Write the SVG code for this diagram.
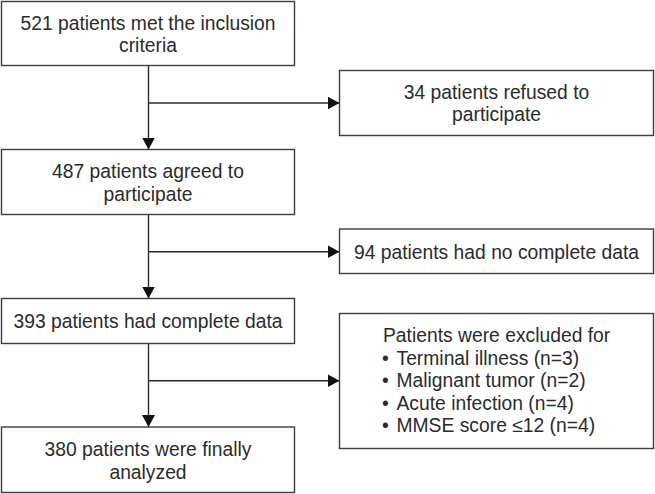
<svg xmlns="http://www.w3.org/2000/svg" width="655" height="494" viewBox="0 0 655 494">
<style>
.box{fill:#fff;stroke:#3d3d3d;stroke-width:1.4}
.t{font-family:"Liberation Sans",Arial,sans-serif;font-size:19.3px;fill:#2b2b2b}
.c{text-anchor:middle}
.ln{fill:none;stroke:#2b2b2b;stroke-width:1.4}
</style>
<defs>
<marker id="ah" markerUnits="userSpaceOnUse" markerWidth="12" markerHeight="13" refX="12" refY="6.5" orient="auto" viewBox="0 0 12 13">
<path d="M0,0 L12,6.5 L0,13 z" fill="#111"/>
</marker>
</defs>
<rect width="655" height="494" fill="#fff"/>
<g id="connectors">
<line class="ln" x1="148.5" y1="65.5" x2="148.5" y2="149.5" marker-end="url(#ah)"/>
<line class="ln" x1="148.5" y1="103" x2="339.5" y2="103" marker-end="url(#ah)"/>
<line class="ln" x1="148.5" y1="214.5" x2="148.5" y2="298.5" marker-end="url(#ah)"/>
<line class="ln" x1="148.5" y1="251.7" x2="339.5" y2="251.7" marker-end="url(#ah)"/>
<line class="ln" x1="148.5" y1="343.5" x2="148.5" y2="427" marker-end="url(#ah)"/>
<line class="ln" x1="148.5" y1="380.7" x2="339.5" y2="380.7" marker-end="url(#ah)"/>
</g>
<g id="n1">
<rect class="box" x="1.5" y="1.5" width="293" height="64"/>
<text class="t c" x="148" y="29.5">521 patients met the inclusion</text>
<text class="t c" x="148" y="52">criteria</text>
</g>
<g id="n2">
<rect class="box" x="1.5" y="149.5" width="293" height="65"/>
<text class="t c" x="148" y="177.5">487 patients agreed to</text>
<text class="t c" x="148" y="200.5">participate</text>
</g>
<g id="n3">
<rect class="box" x="1.5" y="298.5" width="293" height="45"/>
<text class="t c" x="148" y="328.3">393 patients had complete data</text>
</g>
<g id="n4">
<rect class="box" x="1.5" y="427" width="293" height="65.5"/>
<text class="t c" x="148" y="456">380 patients were finally</text>
<text class="t c" x="148" y="478.5">analyzed</text>
</g>
<g id="r1">
<rect class="box" x="339.5" y="70.5" width="314" height="65"/>
<text class="t c" x="496.5" y="98.5">34 patients refused to</text>
<text class="t c" x="496.5" y="121">participate</text>
</g>
<g id="r2">
<rect class="box" x="339.5" y="229" width="314" height="44.5"/>
<text class="t c" x="496.5" y="258.5">94 patients had no complete data</text>
</g>
<g id="r3">
<rect class="box" x="339.5" y="313.5" width="314" height="135"/>
<text class="t" x="383" y="342">Patients were excluded for</text>
<text class="t" y="364.5"><tspan x="382">•</tspan><tspan x="396.5">Terminal illness (n=3)</tspan></text>
<text class="t" y="387"><tspan x="382">•</tspan><tspan x="396.5">Malignant tumor (n=2)</tspan></text>
<text class="t" y="409.5"><tspan x="382">•</tspan><tspan x="396.5">Acute infection (n=4)</tspan></text>
<text class="t" y="432"><tspan x="382">•</tspan><tspan x="396.5">MMSE score ≤12 (n=4)</tspan></text>
</g>
</svg>
